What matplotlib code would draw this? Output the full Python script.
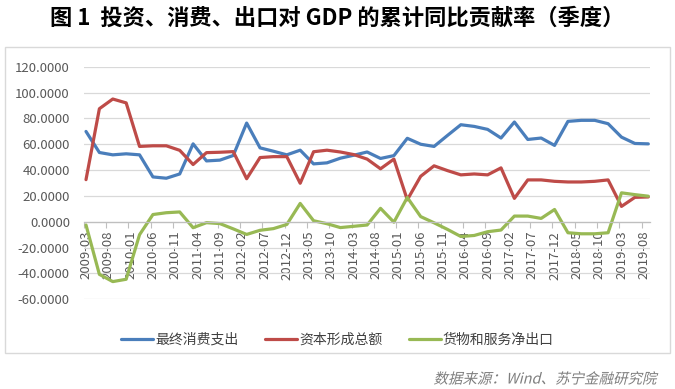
import matplotlib
matplotlib.use("Agg")
import matplotlib.pyplot as plt
from matplotlib.font_manager import FontProperties
from matplotlib.patches import PathPatch, Rectangle
from matplotlib.textpath import TextPath
from matplotlib.transforms import Affine2D


plt.rcParams["font.family"] = ["Noto Sans CJK SC", "DejaVu Sans"]

# quarterly observations, 2009-03 .. 2019-09
quarters = [
    f"{year}-{month:02d}"
    for year in range(2009, 2020)
    for month in (3, 6, 9, 12)
][:43]

consumption = [
    69.9, 53.6, 51.8, 52.6, 51.8, 34.7, 33.7, 37.0, 60.3, 47.1,
    47.7, 51.3, 76.4, 57.2, 54.6, 51.8, 55.4, 44.8, 45.6, 49.2,
    51.5, 54.0, 49.0, 51.2, 64.6, 60.0, 58.3, 66.8, 75.1, 73.8,
    71.5, 64.8, 77.2, 63.7, 64.8, 59.1, 77.7, 78.5, 78.5, 75.9,
    65.5, 60.6, 60.3,
]
capital = [
    32.6, 87.5, 95.0, 92.0, 58.3, 58.8, 58.8, 55.3, 44.3, 53.5,
    53.8, 54.3, 33.3, 49.7, 50.4, 50.4, 29.8, 54.2, 55.4, 54.0,
    52.0, 48.5, 41.0, 48.5, 17.0, 35.2, 43.3, 39.6, 36.3, 37.0,
    36.3, 41.7, 18.1, 32.4, 32.4, 31.3, 30.8, 30.8, 31.3, 32.4,
    11.9, 18.9, 19.2,
]
net_export = [
    -2.5, -40.7, -46.3, -44.5, -10.0, 5.6, 7.0, 7.6, -4.6, -0.7,
    -1.4, -5.5, -9.8, -6.6, -5.3, -2.1, 14.2, 0.8, -1.5, -4.5,
    -3.5, -2.5, 10.4, -0.3, 18.8, 4.0, -0.8, -5.9, -11.4, -10.6,
    -7.7, -6.4, 4.4, 4.4, 2.6, 9.5, -8.5, -9.3, -9.3, -8.5,
    22.4, 21.0, 19.8,
]

series_names = ["最终消费支出", "资本形成总额", "货物和服务净出口"]
series_colors = ["#4a7ebb", "#be4b48", "#98b954"]

TITLE = "图 1  投资、消费、出口对 GDP 的累计同比贡献率（季度）"
SOURCE = "数据来源：Wind、苏宁金融研究院"


def month_index(label):
    year, month = label.split("-")
    return (int(year) - 2009) * 12 + int(month) - 3


def month_label(idx):
    total = 2009 * 12 + 2 + idx
    return f"{total // 12}-{total % 12 + 1:02d}"


def add_slanted_text(fig, text, right_px, center_y_px, size_px, color):
    # no italic CJK face installed, so shear the glyph outlines instead
    path = TextPath((0, 0), text, size=size_px,
                    prop=FontProperties(family="Noto Sans CJK SC"))
    ext = path.get_extents()
    height = fig.bbox.height
    trans = (Affine2D()
             .skew_deg(14, 0)
             .translate(right_px - ext.x1 - 2, height - center_y_px - size_px * 0.38))
    fig.patches.append(PathPatch(path, transform=trans, facecolor=color,
                                 edgecolor="none"))


def main():
    fig = plt.figure(figsize=(6.75, 3.89), dpi=100)
    ax = fig.add_axes([0.1241, 0.2306, 0.9637 - 0.1241, 0.8285 - 0.2306])

    x = [month_index(q) for q in quarters]
    for values, name, color in zip(
        [consumption, capital, net_export], series_names, series_colors
    ):
        ax.plot(x, values, color=color, lw=2.3, label=name,
                solid_joinstyle="round", solid_capstyle="round")

    last = month_index(quarters[-1])
    ax.set_xlim(-0.5, last + 0.5)
    ax.set_ylim(-60, 120)
    ax.set_yticks(range(-60, 121, 20))
    ax.set_yticklabels([f"{v:.4f}" for v in range(-60, 121, 20)])
    ax.yaxis.grid(True, color="#d9d9d9", lw=0.9)
    ax.set_axisbelow(True)

    label_pos = list(range(0, last, 5))
    ax.set_xticks([p - 0.5 for p in label_pos])
    ax.set_xticklabels([])
    ax.set_xticks(label_pos, [month_label(p) for p in label_pos], minor=True)
    ax.tick_params(axis="x", which="major", length=4, color="#bfbfbf", width=0.8)
    ax.tick_params(axis="x", which="minor", length=0, pad=6.5,
                   labelrotation=90, labelsize=9.5, labelcolor="#595959")
    ax.tick_params(axis="y", length=0, pad=10, labelsize=9.5, labelcolor="#595959")

    for side in ["top", "right", "left"]:
        ax.spines[side].set_visible(False)
    ax.spines["bottom"].set_position(("data", 0))
    ax.spines["bottom"].set_color("#bfbfbf")
    ax.spines["bottom"].set_linewidth(0.9)

    fig.legend(loc="center", bbox_to_anchor=(0.5, 1 - 340 / 389), ncol=3,
               frameon=False, fontsize=10, handlelength=2.3,
               handletextpad=0.15, columnspacing=1.9, labelcolor="#404040")

    fig.patches.append(Rectangle((5 / 675, 1 - 353 / 389), 665 / 675, 306 / 389,
                                 transform=fig.transFigure, fill=False,
                                 edgecolor="#d9d9d9", lw=1))

    fig.text(0.5, 1 - 18 / 389, TITLE, ha="center", va="center",
             fontsize=16, fontweight="bold", color="black")
    add_slanted_text(fig, SOURCE, 658, 378, 14.5, "#7f7f7f")

    fig.savefig("out.png", dpi=100)


if __name__ == "__main__":
    main()
